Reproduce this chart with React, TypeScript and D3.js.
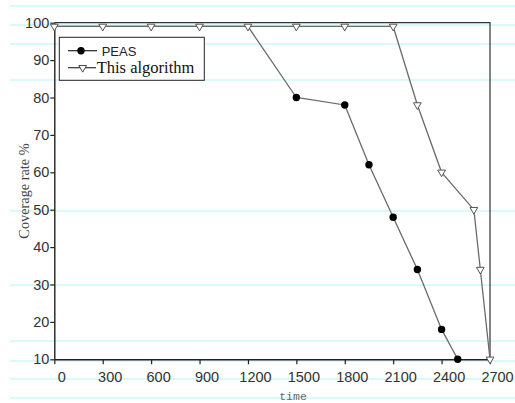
import React, { useEffect, useRef } from 'react';
import { select, scaleLinear, axisLeft, axisBottom, line, symbol, symbolTriangle } from 'd3';

// data
const xTicks = [0, 300, 600, 900, 1200, 1500, 1800, 2100, 2400, 2700];
const yTicks = [10, 20, 30, 40, 50, 60, 70, 80, 90, 100];

const peasTime = [0, 300, 600, 900, 1200, 1500, 1800, 1950, 2100, 2250, 2400, 2500];
const peasRate = [99, 99, 99, 99, 99, 80, 78, 62, 48, 34, 18, 10];

const algoTime = [0, 300, 600, 900, 1200, 1500, 1800, 2100, 2250, 2400, 2600, 2640, 2700];
const algoRate = [99, 99, 99, 99, 99, 99, 99, 99, 78, 60, 50, 34, 10];

const seriesNames = ['PEAS', 'This algorithm'];

// faint ruled lines of the scanned page
const paperLines = [6, 25, 44, 80, 211, 285, 341, 361, 379, 398];

const canvasWidth = 515;
const canvasHeight = 403;
const plot = { left: 54.3, right: 490, top: 22.7, bottom: 359.3 };

function App() {
  const svgRef = useRef<SVGSVGElement>(null);

  useEffect(() => {
    const svg = select(svgRef.current);
    svg.selectAll('*').remove();

    const x = scaleLinear().domain([0, 2700]).range([plot.left, plot.right]);
    const y = scaleLinear().domain([10, 100]).range([plot.bottom, plot.top]);

    svg.append('rect').attr('width', canvasWidth).attr('height', canvasHeight).attr('fill', '#fff');

    svg
      .selectAll('line.paper')
      .data(paperLines)
      .enter()
      .append('line')
      .attr('x1', 10)
      .attr('x2', canvasWidth)
      .attr('y1', d => d)
      .attr('y2', d => d)
      .attr('stroke', '#cdf9f9')
      .attr('stroke-width', 1.3);

    // frame (top / right)
    svg
      .append('path')
      .attr('d', `M${plot.left},${plot.top}H${plot.right}V${plot.bottom}`)
      .attr('fill', 'none')
      .attr('stroke', '#333')
      .attr('stroke-width', 1.2);

    // y axis
    const gy = svg
      .append('g')
      .attr('transform', `translate(${plot.left},0)`)
      .call(axisLeft(y).tickValues(yTicks).tickSize(4).tickSizeOuter(0).tickPadding(1));
    gy.select('.domain').attr('stroke', '#222').attr('stroke-width', 1.4);
    gy.selectAll('.tick line').attr('stroke', '#222').attr('stroke-width', 1.2);
    gy.selectAll('.tick text')
      .attr('font-family', 'Liberation Sans, Arial, sans-serif')
      .attr('font-size', 14.5)
      .attr('fill', '#333');

    // x axis
    const gx = svg
      .append('g')
      .attr('transform', `translate(0,${plot.bottom})`)
      .call(
        axisBottom(x)
          .tickValues(xTicks)
          .tickFormat(d => String(d))
          .tickSize(5)
          .tickSizeOuter(0)
          .tickPadding(7)
      );
    gx.select('.domain').attr('stroke', '#222').attr('stroke-width', 1.4);
    gx.selectAll('.tick line').attr('stroke', '#222').attr('stroke-width', 1.2);
    gx.selectAll('.tick text')
      .attr('x', 7)
      .attr('font-family', 'Liberation Sans, Arial, sans-serif')
      .attr('font-size', 14.5)
      .attr('fill', '#333');

    // axis titles
    svg
      .append('text')
      .attr('x', 293)
      .attr('y', 400)
      .attr('text-anchor', 'middle')
      .attr('font-family', 'Liberation Mono, monospace')
      .attr('font-size', 11.5)
      .attr('fill', '#666')
      .text('time');
    svg
      .append('text')
      .attr('transform', 'translate(29,191) rotate(-90)')
      .attr('text-anchor', 'middle')
      .attr('font-family', 'Liberation Serif, Times New Roman, serif')
      .attr('font-size', 14.3)
      .attr('fill', '#444')
      .text('Coverage rate %');

    const peas = peasTime.map((t, i) => [t, peasRate[i]] as [number, number]);
    const algo = algoTime.map((t, i) => [t, algoRate[i]] as [number, number]);
    const lineGen = line<[number, number]>()
      .x(d => x(d[0]))
      .y(d => y(d[1]));

    svg
      .append('path')
      .attr('d', lineGen(peas))
      .attr('fill', 'none')
      .attr('stroke', '#6a6a6a')
      .attr('stroke-width', 1.3);
    svg
      .append('path')
      .attr('d', lineGen(algo))
      .attr('fill', 'none')
      .attr('stroke', '#6a6a6a')
      .attr('stroke-width', 1.3);

    // PEAS markers: the flat start carries no visible dots in the original
    svg
      .selectAll('circle.peas')
      .data(peas.filter(d => d[1] < 99))
      .enter()
      .append('circle')
      .attr('cx', d => x(d[0]))
      .attr('cy', d => y(d[1]))
      .attr('r', 3.7)
      .attr('fill', '#000');

    const tri = symbol().type(symbolTriangle).size(26);
    svg
      .selectAll('path.algo')
      .data(algo)
      .enter()
      .append('path')
      .attr('d', tri())
      .attr('transform', d => `translate(${x(d[0])},${y(d[1])}) rotate(180)`)
      .attr('fill', '#fff')
      .attr('stroke', '#555')
      .attr('stroke-width', 1);

    // legend
    const lg = svg.append('g');
    lg.append('rect')
      .attr('x', 59.3)
      .attr('y', 37.3)
      .attr('width', 145)
      .attr('height', 43)
      .attr('fill', '#fff')
      .attr('stroke', '#222')
      .attr('stroke-width', 1);
    lg.append('line').attr('x1', 68).attr('x2', 97).attr('y1', 50.7).attr('y2', 50.7).attr('stroke', '#222').attr('stroke-width', 1.2);
    lg.append('circle').attr('cx', 81).attr('cy', 50.7).attr('r', 3.7).attr('fill', '#000');
    lg.append('text')
      .attr('x', 101.7)
      .attr('y', 55.5)
      .attr('font-family', 'Liberation Sans, Arial, sans-serif')
      .attr('font-size', 13)
      .attr('fill', '#222')
      .text(seriesNames[0]);
    lg.append('line').attr('x1', 68).attr('x2', 96).attr('y1', 67.7).attr('y2', 67.7).attr('stroke', '#333').attr('stroke-width', 1.2);
    lg.append('path')
      .attr('d', tri())
      .attr('transform', 'translate(82.7,67.7) rotate(180)')
      .attr('fill', '#fff')
      .attr('stroke', '#444')
      .attr('stroke-width', 1);
    lg.append('text')
      .attr('x', 96.7)
      .attr('y', 72.5)
      .attr('font-family', 'Liberation Serif, Times New Roman, serif')
      .attr('font-size', 16.5)
      .attr('fill', '#111')
      .text(seriesNames[1]);
  }, []);

  return (
    <svg
      ref={svgRef}
      width={canvasWidth}
      height={canvasHeight}
      style={{ position: 'absolute', left: 0, top: 0 }}
    />
  );
}

export default App;
